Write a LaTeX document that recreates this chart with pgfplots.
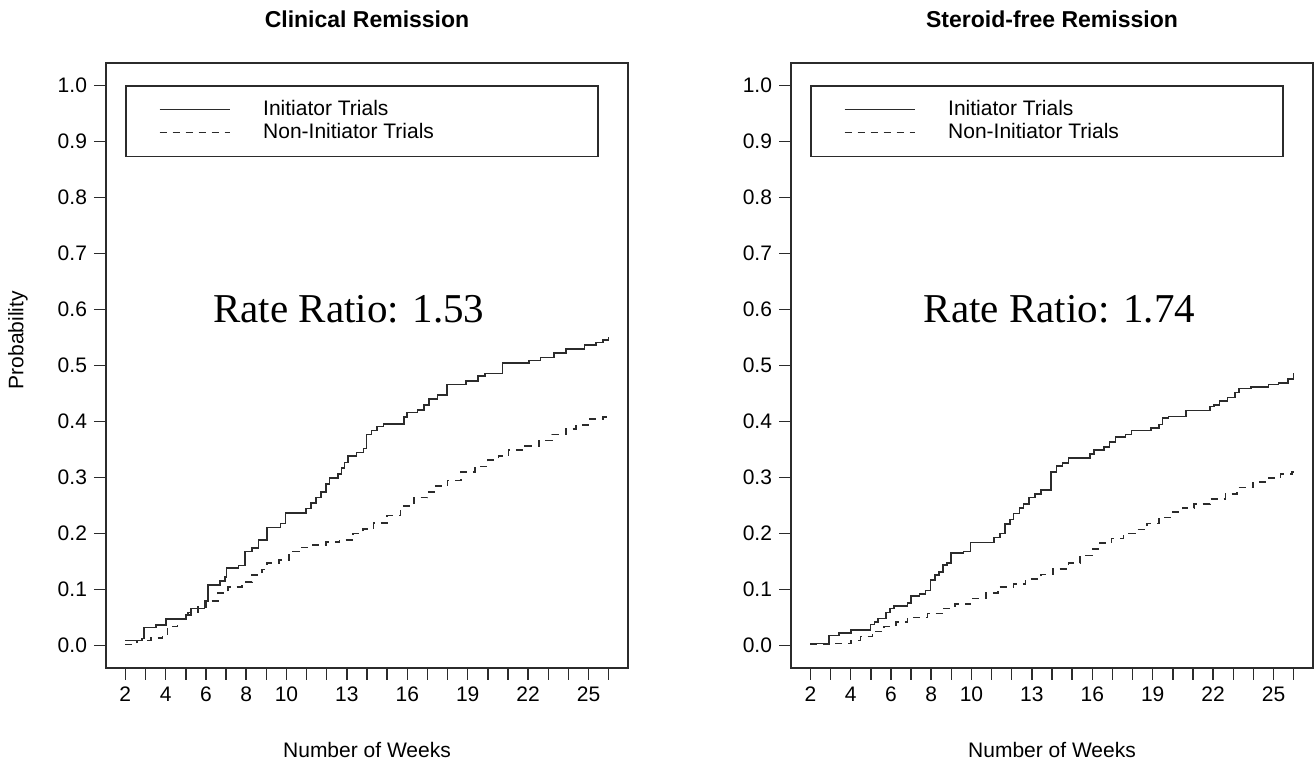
\documentclass[border=0pt]{standalone}
\usepackage{pgfplots}
\pgfplotsset{compat=1.18}
\usepackage{fontspec}
\setmainfont{Liberation Sans}
\newfontfamily\rrfont{Liberation Serif}
\definecolor{ink}{HTML}{2B2B2B}

\pgfplotstableread{
x y
2.00 0.009
2.84 0.013
2.92 0.032
3.51 0.037
4.01 0.047
5.02 0.055
5.27 0.066
5.94 0.080
6.11 0.108
6.69 0.115
6.94 0.122
7.03 0.138
7.61 0.143
7.95 0.168
8.28 0.174
8.62 0.189
9.04 0.211
9.71 0.218
9.96 0.237
10.97 0.245
11.22 0.254
11.47 0.264
11.72 0.274
11.97 0.288
12.14 0.299
12.56 0.306
12.73 0.317
12.89 0.327
13.06 0.338
13.48 0.345
13.82 0.352
13.98 0.377
14.23 0.384
14.49 0.391
14.82 0.396
15.83 0.408
15.99 0.416
16.50 0.421
16.83 0.430
17.08 0.440
17.50 0.447
17.97 0.466
18.93 0.472
19.51 0.481
19.85 0.486
20.72 0.504
22.03 0.509
22.61 0.514
23.28 0.522
23.87 0.529
24.79 0.537
25.38 0.541
25.71 0.546
26.00 0.551
}\clinInit

\pgfplotstableread{
x y
2.00 0.002
2.59 0.009
3.26 0.014
3.84 0.020
4.09 0.034
4.60 0.048
5.10 0.059
5.60 0.069
6.02 0.080
6.61 0.094
7.11 0.105
7.78 0.113
8.28 0.126
8.79 0.136
9.04 0.147
9.63 0.153
10.13 0.168
10.63 0.175
11.30 0.180
11.97 0.185
12.64 0.189
13.31 0.200
13.81 0.208
14.32 0.219
14.99 0.232
15.66 0.249
16.33 0.264
17.00 0.274
17.33 0.285
18.00 0.295
18.68 0.310
19.35 0.320
20.02 0.331
20.52 0.338
21.02 0.349
21.86 0.356
22.53 0.366
23.20 0.377
23.87 0.387
24.37 0.394
25.04 0.405
25.71 0.408
26.00 0.409
}\clinNon

\pgfplotstableread{
x y
2.00 0.004
2.94 0.018
3.42 0.023
4.01 0.028
4.98 0.0375
5.18 0.042
5.37 0.048
5.76 0.059
5.95 0.066
6.15 0.071
6.83 0.076
6.99 0.088
7.42 0.092
7.71 0.098
7.96 0.117
8.20 0.126
8.39 0.131
8.58 0.144
8.78 0.147
8.97 0.165
9.60 0.168
9.95 0.184
11.12 0.193
11.41 0.200
11.66 0.217
11.90 0.225
12.09 0.236
12.38 0.246
12.58 0.253
12.87 0.264
13.16 0.271
13.46 0.278
13.94 0.310
14.23 0.321
14.53 0.326
14.82 0.335
15.89 0.342
16.09 0.349
16.57 0.354
16.86 0.363
17.16 0.372
17.64 0.377
17.94 0.384
18.91 0.388
19.30 0.395
19.49 0.406
19.79 0.409
20.66 0.420
21.83 0.427
22.03 0.430
22.32 0.437
22.71 0.443
23.10 0.452
23.29 0.459
23.88 0.462
24.75 0.466
25.24 0.469
25.73 0.476
26.00 0.487
}\sterInit

\pgfplotstableread{
x y
2.00 0.002
2.94 0.004
4.01 0.009
4.49 0.016
5.08 0.025
5.66 0.034
6.25 0.042
6.83 0.050
7.81 0.057
8.58 0.066
9.17 0.074
9.95 0.084
10.73 0.094
11.31 0.105
12.09 0.110
12.68 0.119
13.46 0.127
14.04 0.137
14.82 0.147
15.40 0.161
15.99 0.172
16.38 0.183
16.96 0.191
17.55 0.200
18.13 0.207
18.72 0.218
19.30 0.229
19.88 0.238
20.47 0.246
21.05 0.253
21.83 0.262
22.61 0.271
23.20 0.282
23.98 0.292
24.75 0.299
25.34 0.306
25.92 0.310
26.00 0.310
}\sterNon

\pgfplotsset{
  rpanel/.style={
    scale only axis,
    width=261pt, height=302.5pt,
    xmin=1.04, xmax=26.96, ymin=-0.04, ymax=1.04,
    axis line style={ink, line width=0.8pt},
    tick style={ink, line width=0.75pt},
    tick align=outside,
    major tick length=6pt,
    xtick pos=bottom, ytick pos=left,
    xtick={2,3,...,26},
    xticklabels={2,,4,,6,,8,,10,,,13,,,16,,,19,,,22,,,25,},
    ytick={0,0.1,0.2,0.3,0.4,0.5,0.6,0.7,0.8,0.9,1.0},
    yticklabels={0.0,0.1,0.2,0.3,0.4,0.5,0.6,0.7,0.8,0.9,1.0},
    ticklabel style={font=\fontsize{10.5pt}{12pt}\selectfont, text=black},
    /pgf/number format/assume math mode=true,
    title style={at={(axis description cs:0.5,1.052)}, anchor=center,
      font=\bfseries\fontsize{11.5pt}{13pt}\selectfont},
    xlabel style={at={(axis description cs:0.5,-0.1355)}, anchor=center,
      font=\fontsize{10.5pt}{12pt}\selectfont},
    ylabel style={at={(axis description cs:-0.1686,0.542)}, anchor=center,
      font=\fontsize{10.5pt}{12pt}\selectfont},
    legend style={at={(axis cs:2,1)}, anchor=north west,
      draw=ink, line width=0.75pt, inner xsep=0pt, inner ysep=5.3pt,
      row sep=-1.5pt, column sep=0pt,
      font=\fontsize{10.5pt}{12pt}\selectfont,
      cells={anchor=west, inner xsep=0pt, inner ysep=1.5pt, text height=7.5pt, text depth=0pt}},
    legend image code/.code={
      \path[draw=none, fill=none] (-16.75pt,0pt) -- (49.8pt,0pt);
      \draw[##1, line width=0.75pt] (0pt,0pt) -- (35pt,0pt);
    },
    initline/.style={ink, line width=0.8pt, const plot mark left, no marks},
    nonline/.style={ink, line width=0.8pt, const plot mark left, no marks, dash pattern=on 3.5pt off 3pt},
  }
}

\begin{document}
\begin{tikzpicture}
\useasboundingbox (0,0) rectangle (657.5pt,381.5pt);

\begin{axis}[rpanel, at={(53pt,47.5pt)}, anchor=south west,
  title={Clinical Remission}, xlabel={Number of Weeks}, ylabel={Probability}]
\addplot[initline] table[x=x,y=y] {\clinInit};
\addlegendentry{\makebox[165.5pt][l]{Initiator Trials}}
\addplot[nonline] table[x=x,y=y] {\clinNon};
\addlegendentry{\makebox[165.5pt][l]{Non-Initiator Trials}}
\node[font=\rrfont\fontsize{20.5pt}{24pt}\selectfont, anchor=center] at (axis cs:13.1,0.6) {Rate Ratio: 1.53};
\end{axis}

\begin{axis}[rpanel, at={(395.5pt,47.5pt)}, anchor=south west,
  title={Steroid-free Remission}, xlabel={Number of Weeks}]
\addplot[initline] table[x=x,y=y] {\sterInit};
\addlegendentry{\makebox[165.5pt][l]{Initiator Trials}}
\addplot[nonline] table[x=x,y=y] {\sterNon};
\addlegendentry{\makebox[165.5pt][l]{Non-Initiator Trials}}
\node[font=\rrfont\fontsize{20.5pt}{24pt}\selectfont, anchor=center] at (axis cs:14.37,0.6) {Rate Ratio: 1.74};
\end{axis}
\end{tikzpicture}
\end{document}
